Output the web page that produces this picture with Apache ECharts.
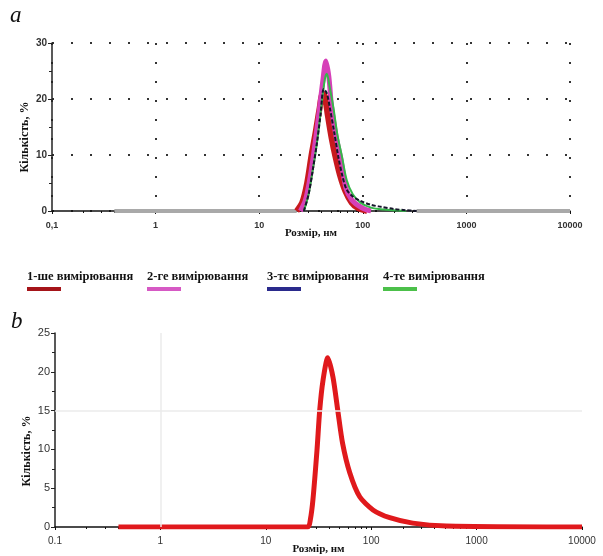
<!DOCTYPE html>
<html>
<head>
<meta charset="utf-8">
<script src="https://cdn.jsdelivr.net/npm/echarts@6/dist/echarts.min.js"></script>
<style>
html, body { margin: 0; padding: 0; background: #fff; }
#chart { width: 603px; height: 556px; }
</style>
</head>
<body>
<div id="chart"></div>
<script>
// panel a: four measurements (size in nm, count in %)
var names = ['1-ше вимірювання', '2-ге вимірювання', '3-тє вимірювання', '4-те вимірювання'];

var size1 = [23, 26, 29, 32, 35, 38, 41, 43, 46, 50, 54, 60, 68, 78, 90, 110];
var count1 = [0, 1.5, 5, 10, 14, 18, 21, 20.5, 17, 13, 10, 6.5, 3.5, 1.5, 0.5, 0];

var size2 = [25, 28, 31, 34, 38, 41, 44, 47, 50, 55, 61, 69, 78, 90, 105, 120];
var count2 = [0, 2, 6, 11, 18, 23, 26.8, 24, 18.5, 13.5, 9.5, 4, 2, 1, 0.3, 0];

var size3 = [27, 30, 33, 36, 39, 42, 45, 48, 53, 58, 64, 70, 80, 95, 120, 150, 200, 260, 330];
var count3 = [0, 3, 7.5, 12, 17, 21.8, 21, 18.5, 14, 9.7, 6, 3.8, 2.6, 1.8, 1.1, 0.75, 0.35, 0.15, 0];

var size4 = [27, 30, 33, 36, 40, 43, 45, 48, 52, 57, 63, 70, 80, 95, 120, 160, 220, 260];
var count4 = [0, 3, 7.5, 12, 19, 23.5, 24.5, 22, 18.5, 13.5, 9.7, 5.5, 3, 1.5, 0.6, 0.25, 0.1, 0];

// flat zero parts of panel a (grey)
var baseSegments = [[0.4, 23], [330, 10000]];

// panel b: single averaged curve
var sizeB = [0.4, 25, 26.5, 28, 30.6, 32.5, 34.9, 38.7, 43.4, 48.1, 53.5, 62.6, 77.8, 104, 150, 248, 516, 10000];
var countB = [0, 0, 1, 3.5, 9.9, 15.1, 18.9, 21.8, 19.3, 15.1, 10.8, 7.0, 3.9, 2.2, 1.2, 0.5, 0.13, 0];

var colors = ['#c8191e', '#d640b8', '#15152a', '#35b84a'];
var legendColors = ['#a51419', '#d659c4', '#2a2a8c', '#4cc04a'];

function pairs(xs, ys) {
  return xs.map(function (x, i) { return [x, ys[i]]; });
}

var baseData = [];
baseSegments.forEach(function (s, i) {
  if (i > 0) baseData.push([Math.sqrt(baseSegments[i - 1][1] * s[0]), null]);
  baseData.push([s[0], 0], [s[1], 0]);
});

var chart = echarts.init(document.getElementById('chart'));

var serifBold = { fontFamily: 'Liberation Serif', fontWeight: 'bold', color: '#111' };

function xAxisOpt(grid, opts) {
  return {
    type: 'log', logBase: 10, min: 0.1, max: 10000, gridIndex: grid,
    name: 'Розмір, нм', nameLocation: 'middle', nameGap: opts.nameGap, nameMoveOverlap: false,
    nameTextStyle: Object.assign({ fontSize: 11, verticalAlign: 'top' }, serifBold),
    axisLine: { show: true, lineStyle: { color: '#111', width: 1.5 } },
    axisTick: { show: true, length: 3, lineStyle: { color: '#111' } },
    minorTick: { show: true, splitNumber: 9, length: 2, lineStyle: { color: '#111' } },
    axisLabel: {
      fontFamily: 'Liberation Sans', fontSize: opts.fontSize, fontWeight: opts.weight,
      color: '#333', margin: opts.margin, formatter: opts.formatter
    },
    splitLine: opts.split
  };
}

function yAxisOpt(grid, max, interval, opts) {
  return {
    type: 'value', min: 0, max: max, interval: interval, gridIndex: grid,
    name: 'Кількість, %', nameLocation: 'middle', nameGap: opts.nameGap, nameMoveOverlap: false,
    nameTextStyle: Object.assign({ fontSize: 12, padding: opts.namePad }, serifBold),
    axisLine: { show: true, lineStyle: { color: '#222', width: 1.5 } },
    axisTick: { show: true, length: 4, lineStyle: { color: '#222' } },
    minorTick: { show: true, splitNumber: 2, length: 3, lineStyle: { color: '#222' } },
    axisLabel: {
      fontFamily: 'Liberation Sans', fontSize: opts.fontSize, fontWeight: opts.weight,
      color: '#333', margin: 5
    },
    splitLine: opts.split
  };
}

var dotted = { show: true, lineStyle: { type: [2, 17], width: 2, color: '#333' } };

var seriesA = [[size1, count1, 6, 'solid'], [size2, count2, 5, 'solid'],
               [size4, count4, 2, 'solid'], [size3, count3, 2, [4, 2]]];
var idxA = [0, 1, 3, 2];

var series = [{
  type: 'line', xAxisIndex: 0, yAxisIndex: 0, data: baseData, showSymbol: false,
  connectNulls: false, lineStyle: { color: '#a9a9a9', width: 4 }, silent: true
}];
seriesA.forEach(function (s, k) {
  var i = idxA[k];
  series.push({
    name: names[i], type: 'line', xAxisIndex: 0, yAxisIndex: 0,
    data: pairs(s[0], s[1]), showSymbol: false, smooth: 0.3,
    lineStyle: { color: colors[i], width: s[2], type: s[3] }
  });
});
series.push({
  type: 'line', xAxisIndex: 1, yAxisIndex: 1, data: pairs(sizeB, countB),
  showSymbol: false, smooth: 0.25,
  lineStyle: { color: '#e0191c', width: 5 },
  markLine: {
    silent: true, symbol: 'none', label: { show: false },
    lineStyle: { color: '#ebebeb', width: 1.5, type: 'solid' },
    data: [{ yAxis: 15 }, { xAxis: 1 }]
  }
});

var graphic = [
  { type: 'text', left: 10, top: 4, style: { text: 'a', fontFamily: 'Liberation Serif', fontStyle: 'italic', fontSize: 23, fill: '#111' } },
  { type: 'text', left: 11, top: 310, style: { text: 'b', fontFamily: 'Liberation Serif', fontStyle: 'italic', fontSize: 23, fill: '#111' } }
];
var legendX = [27, 147, 267, 383];
names.forEach(function (n, i) {
  graphic.push({ type: 'text', left: legendX[i], top: 270,
    style: { text: n, fontFamily: 'Liberation Serif', fontWeight: 'bold', fontSize: 12.5, fill: '#111' } });
  graphic.push({ type: 'rect', left: legendX[i], top: 287,
    shape: { width: 34, height: 4 }, style: { fill: legendColors[i] } });
});

chart.setOption({
  animation: false,
  grid: [
    { left: 52, right: 33, top: 43, height: 168 },
    { left: 55, right: 21, top: 333, height: 194 }
  ],
  xAxis: [
    xAxisOpt(0, { nameGap: 17, fontSize: 9, weight: 'bold', margin: 10,
      formatter: function (v) { return String(v).replace('.', ','); }, split: dotted }),
    xAxisOpt(1, { nameGap: 17, fontSize: 10, weight: 'normal', margin: 9,
      formatter: function (v) { return String(v); }, split: { show: false } })
  ],
  yAxis: [
    yAxisOpt(0, 30, 10, { fontSize: 10, weight: 'bold', split: dotted, namePad: [0, 20, 0, 0], nameGap: 21 }),
    yAxisOpt(1, 25, 5, { fontSize: 11, weight: 'normal', split: { show: false }, namePad: [0, 42, 0, 0], nameGap: 22 })
  ],
  series: series,
  graphic: graphic
});
</script>
</body>
</html>
